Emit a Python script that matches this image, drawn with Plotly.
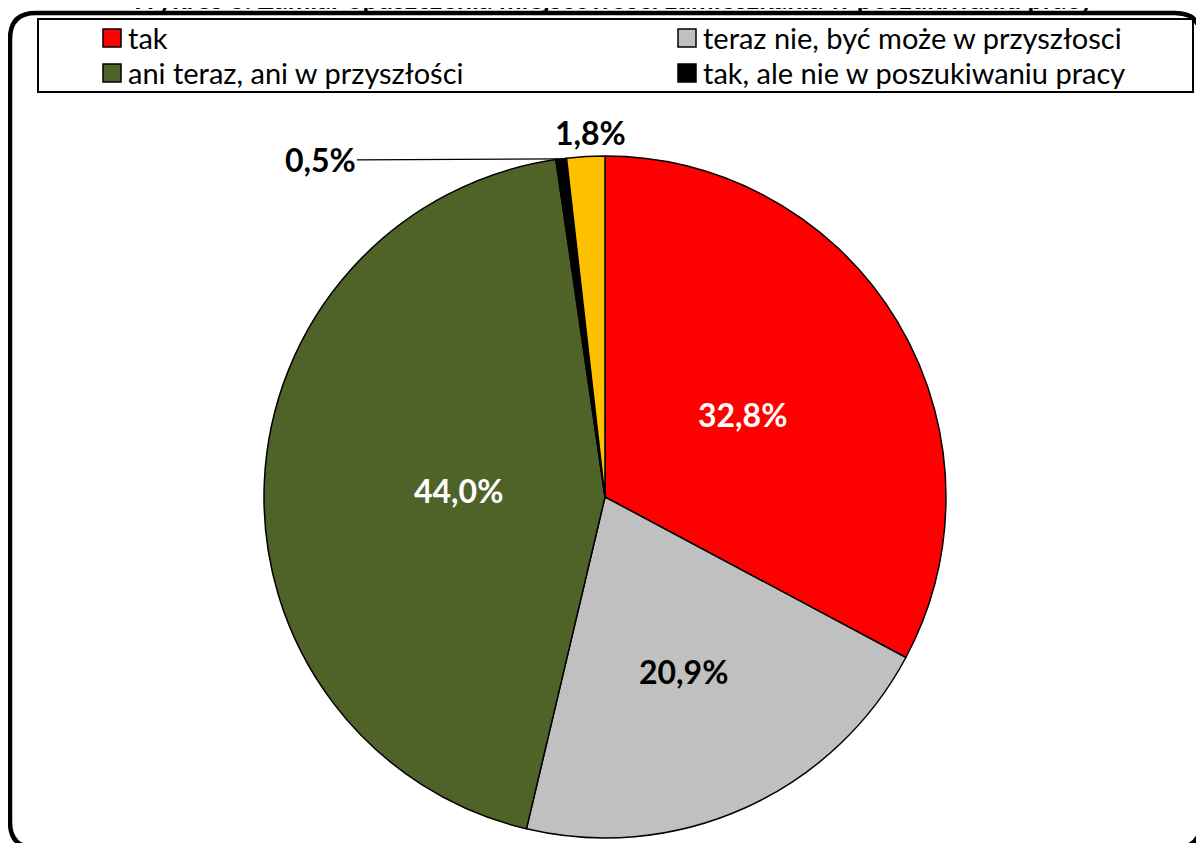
import math
import plotly.graph_objects as go

# ---- data ----
labels = ["tak", "teraz nie, być może w przyszłosci", "ani teraz, ani w przyszłości",
          "tak, ale nie w poszukiwaniu pracy", "brak odpowiedzi"]
values = [32.8, 20.9, 44.0, 0.5, 1.8]
value_text = ["32,8%", "20,9%", "44,0%", "0,5%", "1,8%"]
colors = ["#FF0000", "#C0C0C0", "#4F6228", "#000000", "#FFC000"]
legend_items = [0, 1, 2, 3]  # slices shown in legend (two columns)
title_text = "Wykres 6. Zamiar opuszczenia miejscowości zamieszkania w poszukiwaniu pracy"

# ---- layout geometry (page pixels) ----
W, H = 1204, 843
OFF = 8  # page body margin
CX, CY, R = 605, 497, 341
FONT = "Lato, 'Liberation Sans', sans-serif"


def px(x):
    return (x - OFF) / W


def py(y):
    return 1 - (y - OFF) / H


fig = go.Figure()
fig.add_trace(go.Pie(
    labels=labels, values=values, sort=False, direction="clockwise", rotation=0,
    marker=dict(colors=colors, line=dict(color="black", width=1.5)),
    textinfo="none", hoverinfo="label+percent", showlegend=False,
    domain=dict(x=[px(CX - R), px(CX + R)], y=[py(CY + R), py(CY - R)]),
))

annotations = []
shapes = []

# slice labels computed from data (mid-angle of each slice)
total = sum(values)
cum = 0
inside_frac = [0.47, 0.56, 0.43]
inside_col = ["white", "black", "white"]
mids = []
for v in values:
    mids.append((cum + v / 2) / total * 2 * math.pi)
    cum += v

LBL = dict(family=FONT, size=32)
for i in range(3):
    th = mids[i]
    x = CX + inside_frac[i] * R * math.sin(th)
    y = CY - inside_frac[i] * R * math.cos(th)
    annotations.append(dict(x=px(x), y=py(y), xref="paper", yref="paper",
                            text="<b>" + value_text[i] + "</b>",
                            xanchor="center", yanchor="middle",
                            showarrow=False, font=dict(LBL, color=inside_col[i])))

# 0,5% with leader line
th = mids[3]
ex, ey = CX + R * math.sin(th), CY - R * math.cos(th)
annotations.append(dict(x=px(ex), y=py(ey), xref="paper", yref="paper",
                        text="<b>" + value_text[3] + "</b>",
                        showarrow=True, arrowhead=0, arrowwidth=1.3, arrowcolor="black",
                        ax=320 - ex, ay=160 - ey, standoff=0,
                        xanchor="center", yanchor="middle",
                        font=dict(LBL, color="black")))
# 1,8% just outside
th = mids[4]
lx, ly = CX + 1.08 * R * math.sin(th), CY - 1.08 * R * math.cos(th)
annotations.append(dict(x=px(lx + 6), y=py(ly + 3), xref="paper", yref="paper",
                        text="<b>" + value_text[4] + "</b>",
                        xanchor="center", yanchor="middle",
                        showarrow=False, font=dict(LBL, color="black")))

# title (cut off at top like the reference)
annotations.append(dict(x=px(612), y=py(-2), xref="paper", yref="paper", text="<b>" + title_text + "</b>",
                        showarrow=False, xanchor="center", yanchor="middle",
                        font=dict(family=FONT, size=27, color="black")))

# outer rounded border
r = 26
x0, y0, x1, y1 = 10, 13, 1201, 848


def P(x, y):
    return f"{px(x)} {py(y)}"


path = (f"M {P(x0, y1 - r)} L {P(x0, y0 + r)} Q {P(x0, y0)} {P(x0 + r, y0)} "
        f"L {P(x1 - r, y0)} Q {P(x1, y0)} {P(x1, y0 + r)} L {P(x1, y1 - r)} "
        f"Q {P(x1, y1)} {P(x1 - r, y1)} L {P(x0 + r, y1)} Q {P(x0, y1)} {P(x0, y1 - r)} Z")
shapes.append(dict(type="path", path=path, xref="paper", yref="paper",
                   line=dict(color="black", width=4.5)))

# legend box
shapes.append(dict(type="rect", xref="paper", yref="paper", x0=px(38), x1=px(1193), y0=py(19), y1=py(92),
                   line=dict(color="black", width=2), fillcolor="white", layer="below"))
col_x = [103, 678]
row_y = [38, 73]
for k, idx in enumerate(legend_items):
    cx = col_x[k % 2]
    cy = row_y[k // 2]
    shapes.append(dict(type="rect", xref="paper", yref="paper", x0=px(cx), x1=px(cx + 18),
                       y0=py(cy - 9), y1=py(cy + 9), fillcolor=colors[idx],
                       line=dict(color="black", width=1.5)))
    annotations.append(dict(x=px(cx + 23), y=py(cy), xref="paper", yref="paper", text=labels[idx],
                            showarrow=False, xanchor="left", yanchor="middle",
                            font=dict(family=FONT, size=29, color="black")))

fig.update_layout(width=W, height=H, margin=dict(l=0, r=0, t=0, b=0),
                  paper_bgcolor="white", plot_bgcolor="white",
                  annotations=annotations, shapes=shapes)
fig.write_html("out.html")
